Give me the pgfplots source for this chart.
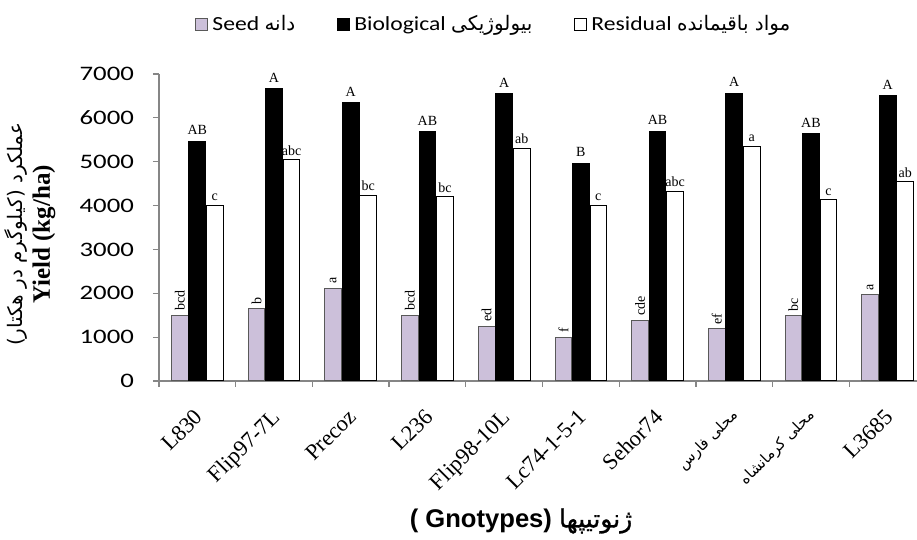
\documentclass[border=0pt]{standalone}
\usepackage{fontspec}
\usepackage{pgfplots}
\usepackage{pgfplotstable}
\pgfplotsset{compat=1.18}
\TeXXeTstate=1
\setmainfont{Liberation Serif}
\newfontfamily\calfont[FakeStretch=1.18]{Carlito}
\newfontfamily\calnumfont[FakeStretch=1.3]{Carlito}
\newfontfamily\fa[Script=Arabic]{DejaVu Sans}
\newfontfamily\fab[Script=Arabic,FakeBold=1.2]{DejaVu Sans}
\newfontfamily\arial{Liberation Sans}
\definecolor{lav}{RGB}{204,192,218}
\definecolor{axgray}{RGB}{134,134,134}
\pgfplotsset{sqlegend/.style={legend image code/.code={\draw[##1] (0pt,-3pt) rectangle (6pt,3pt);}}}

\pgfplotstableread{
x seed bio res sl bl rl
0 1500 5460 4000 bcd AB c
1 1650 6660 5040 b A abc
2 2110 6350 4230 a A bc
3 1500 5680 4200 bcd AB bc
4 1250 6550 5300 ed A ab
5 1000 4970 4000 f B c
6 1380 5700 4330 cde AB abc
7 1190 6560 5350 ef A a
8 1490 5640 4130 bc AB c
9 1970 6500 4540 a A ab
}\data

\begin{document}
\begin{tikzpicture}
\begin{axis}[
  at={(79.5pt,79.5pt)}, anchor=south west,
  scale only axis, width=383.5pt, height=153.5pt,
  xmin=-0.5, xmax=9.5, ymin=0, ymax=7000,
  ybar=0.4pt, bar width=8.35pt,
  axis lines*=left,
  axis line style={axgray, line width=0.6pt},
  tick align=outside,
  major tick length=3pt, minor tick length=3pt,
  tick style={axgray, line width=0.6pt},
  xtick={0,...,9},
  major x tick style={draw=none},
  minor xtick={-0.5,0.5,...,9.5},
  xticklabels={L830, Flip97-7L, Precoz, L236, Flip98-10L, Lc74-1-5-1, Sehor74,
    {{\fa\fontsize{7.5pt}{9pt}\selectfont\beginR محلی فارس\endR}},
    {{\fa\fontsize{7.5pt}{9pt}\selectfont\beginR محلی کرمانشاه\endR}}, L3685},
  xticklabel style={font=\fontsize{11.2pt}{12pt}\selectfont, xshift=-2pt, rotate=45, anchor=north east},
  xticklabel shift=5.5pt,
  ytick={0,1000,...,7000},
  yticklabel style={font=\calnumfont\fontsize{10.3pt}{12pt}\selectfont, xshift=-6pt},
  /pgf/number format/assume math mode=true,
  /pgf/number format/1000 sep={},
  xlabel={( Gnotypes) {\fab\mdseries\fontsize{12.5pt}{14pt}\selectfont\beginR ژنوتیپها\endR}},
  xlabel style={at={(axis description cs:0.472,-0.456)}, anchor=center,
    font=\arial\bfseries\fontsize{12.8pt}{14pt}\selectfont},
  ylabel={{\fa\fontsize{10pt}{12.5pt}\selectfont\beginR عملکرد (کیلوگرم در هکتار)\endR}\\[1pt] \textbf{Yield (kg/ha)}},
  ylabel style={align=center, at={(axis description cs:-0.21,0.478)}, anchor=north,
    font=\fontsize{12.5pt}{12.5pt}\selectfont},
  legend style={at={(axis description cs:0.438,1.16)}, anchor=center, draw=none,
    font=\calfont\fontsize{10pt}{12pt}\selectfont,
    /tikz/every even column/.append style={column sep=19pt}},
  legend columns=3,
  point meta=explicit symbolic,
  nodes near coords,
  every node near coord/.append style={font=\fontsize{7pt}{8pt}\selectfont, inner sep=1.5pt, black},
]
\addplot[fill=lav, draw=black!65, line width=0.5pt, sqlegend,
  every node near coord/.append style={rotate=90, anchor=west, inner sep=2pt}]
  table[x=x, y=seed, meta=sl] {\data};
\addlegendentry{Seed {\fa\beginR دانه\endR}}
\addplot[fill=black, draw=black, line width=0.5pt, sqlegend,
  every node near coord/.append style={inner sep=3pt}]
  table[x=x, y=bio, meta=bl] {\data};
\addlegendentry{Biological {\fa\beginR بیولوژیکی\endR}}
\addplot[fill=white, draw=black, line width=0.5pt, sqlegend,
  every node near coord/.append style={inner sep=2pt}]
  table[x=x, y=res, meta=rl] {\data};
\addlegendentry{Residual {\fa\beginR مواد باقیمانده\endR}}
\end{axis}
\pgfresetboundingbox
\path[use as bounding box] (0,0) rectangle (458.5pt,270pt);
\end{tikzpicture}
\end{document}
